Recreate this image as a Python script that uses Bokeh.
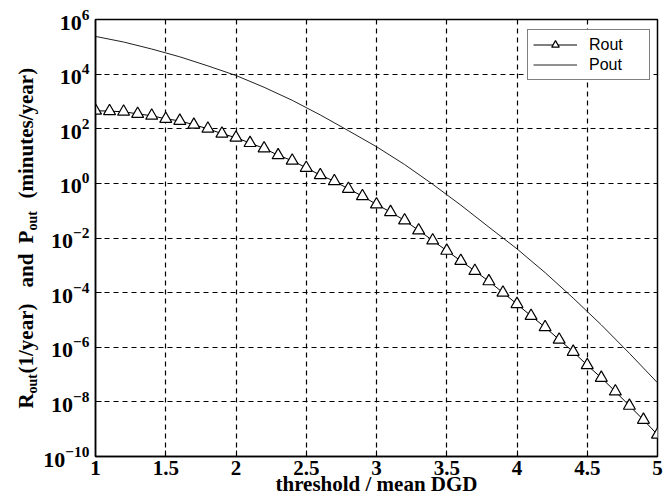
from math import pi
from bokeh.plotting import figure
from bokeh.layouts import row
from bokeh.core.properties import value
from bokeh.models import (Range1d, FixedTicker, NumeralTickFormatter, LogTickFormatter,
                          Legend, LegendItem)
from bokeh.embed import file_html
from bokeh.resources import INLINE

# ---- data ----
x_rout = [1.0, 1.1, 1.2, 1.3, 1.4, 1.5, 1.6, 1.7, 1.8, 1.9,
          2.0, 2.1, 2.2, 2.3, 2.4, 2.5, 2.6, 2.7, 2.8, 2.9,
          3.0, 3.1, 3.2, 3.3, 3.4, 3.5, 3.6, 3.7, 3.8, 3.9,
          4.0, 4.1, 4.2, 4.3, 4.4, 4.5, 4.6, 4.7, 4.8, 4.9, 5.0]
rout = [4.6e2, 4.4e2, 4.2e2, 3.5e2, 3.0e2, 2.3e2, 1.95e2, 1.4e2, 1.0e2, 66,
        47, 30, 19, 10.7, 6.8, 3.7, 2.0, 1.2, 0.63, 0.34,
        0.17, 0.089, 0.044, 0.019, 8.1e-3, 3.4e-3, 1.45e-3, 6.2e-4, 2.6e-4, 1.0e-4,
        3.8e-5, 1.4e-5, 5.4e-6, 1.9e-6, 6.8e-7, 2.2e-7, 7.6e-8, 2.4e-8, 7.2e-9, 2.2e-9, 6.3e-10]

x_pout = [1.0, 1.2, 1.4, 1.6, 1.8, 2.0, 2.2, 2.4, 2.6, 2.8,
          3.0, 3.2, 3.4, 3.6, 3.8, 4.0, 4.2, 4.4, 4.6, 4.8, 5.0]
pout = [2.4e5, 1.5e5, 8.3e4, 4.3e4, 2.0e4, 8.9e3, 3.3e3, 1.1e3, 3.2e2, 85,
        22, 4.9, 0.93, 0.16, 0.025, 4.0e-3, 5.4e-4, 6.3e-5, 6.6e-6, 6.0e-7, 5.0e-8]

x_ticks = [1, 1.5, 2, 2.5, 3, 3.5, 4, 4.5, 5]
y_ticks = [1e-10, 1e-8, 1e-6, 1e-4, 1e-2, 1e0, 1e2, 1e4, 1e6]
series_names = ["Rout", "Pout"]
x_title = "threshold / mean DGD"
# y title pieces: main text and subscripts
ytitle_main = ["R", "(1/year)", "and", "P", "(minutes/year)"]
ytitle_subs = ["out", "out"]

SERIF = "Liberation Serif"
LABEL_W = 40
FRAME_TOP, FRAME_BOTTOM = 19, 456

# ---- main plot ----
p = figure(width=672 - LABEL_W, height=501, y_axis_type="log",
           x_range=Range1d(1, 5), y_range=Range1d(1e-10, 1e6),
           output_backend="svg", toolbar_location=None,
           min_border_left=94 - LABEL_W, min_border_right=15,
           min_border_top=FRAME_TOP, min_border_bottom=501 - FRAME_BOTTOM)
p.background_fill_color = "white"
p.border_fill_color = "white"
p.outline_line_color = "black"
p.outline_line_width = 1.5

p.xaxis.ticker = FixedTicker(ticks=x_ticks, minor_ticks=[])
p.yaxis.ticker = FixedTicker(ticks=y_ticks, minor_ticks=[])
p.xaxis.formatter = NumeralTickFormatter(format="0.[0]")
p.yaxis.formatter = LogTickFormatter()
for ax in (p.xaxis[0], p.yaxis[0]):
    ax.axis_line_color = "black"
    ax.axis_line_width = 1.5
    ax.major_tick_in = 6
    ax.major_tick_out = 0
    ax.major_tick_line_color = "black"
    ax.minor_tick_line_color = None
    ax.major_label_text_font = SERIF
    ax.major_label_text_font_style = "bold"
    ax.major_label_text_color = "black"
p.xaxis.major_label_text_font_size = "21px"
p.yaxis.major_label_text_font_size = "22px"
p.xaxis.major_label_standoff = 4
p.yaxis.major_label_standoff = 6
p.xaxis.axis_label = x_title
p.xaxis.axis_label_text_font = SERIF
p.xaxis.axis_label_text_font_style = "bold"
p.xaxis.axis_label_text_font_size = "21px"
p.xaxis.axis_label_text_color = "black"
p.xaxis.axis_label_standoff = -6

for g in (p.xgrid[0], p.ygrid[0]):
    g.grid_line_color = "black"
    g.grid_line_dash = "5 4"
    g.grid_line_width = 1.2
    g.grid_line_alpha = 1

r_line = p.line(x_rout, rout, line_color="black", line_width=1)
r_pts = p.scatter(x_rout, rout, marker="triangle", size=12,
                  fill_color="white", line_color="black", line_width=1.2)
p_line = p.line(x_pout, pout, line_color="#222222", line_width=1)

legend = Legend(items=[LegendItem(label=series_names[0], renderers=[r_line, r_pts]),
                       LegendItem(label=series_names[1], renderers=[p_line])],
                location=(432, 376), margin=0, padding=5, spacing=1,
                glyph_width=44, glyph_height=19, label_height=19, label_width=55,
                label_standoff=12,
                label_text_font="Liberation Sans", label_text_font_size="16px",
                label_text_color="black",
                border_line_color="black", border_line_width=1,
                background_fill_color="white", background_fill_alpha=1)
p.add_layout(legend)

# ---- narrow panel holding the rotated y title; its frame is aligned with the main
#      frame, so the y range is set to the canvas pixel rows of that frame ----
yl = figure(width=LABEL_W, height=501, x_range=Range1d(0, LABEL_W),
            y_range=Range1d(FRAME_BOTTOM, FRAME_TOP),
            output_backend="svg", toolbar_location=None,
            min_border_left=0, min_border_right=0,
            min_border_top=FRAME_TOP, min_border_bottom=501 - FRAME_BOTTOM)
yl.axis.visible = False
yl.grid.visible = False
yl.outline_line_color = None
yl.background_fill_color = "white"
yl.border_fill_color = "white"

yl.text(x=[25, 25, 25, 25, 25], y=[408, 373, 287, 243, 198], text=ytitle_main,
        angle=pi / 2, text_align="left", text_baseline="middle",
        text_font=value(SERIF), text_font_style="bold", text_font_size="21px",
        text_color="black")
yl.text(x=[32, 32], y=[393, 230], text=ytitle_subs,
        angle=pi / 2, text_align="left", text_baseline="middle",
        text_font=value(SERIF), text_font_style="bold", text_font_size="14px",
        text_color="black")

layout = row(yl, p)
open("out.html", "w").write(file_html(layout, INLINE))
